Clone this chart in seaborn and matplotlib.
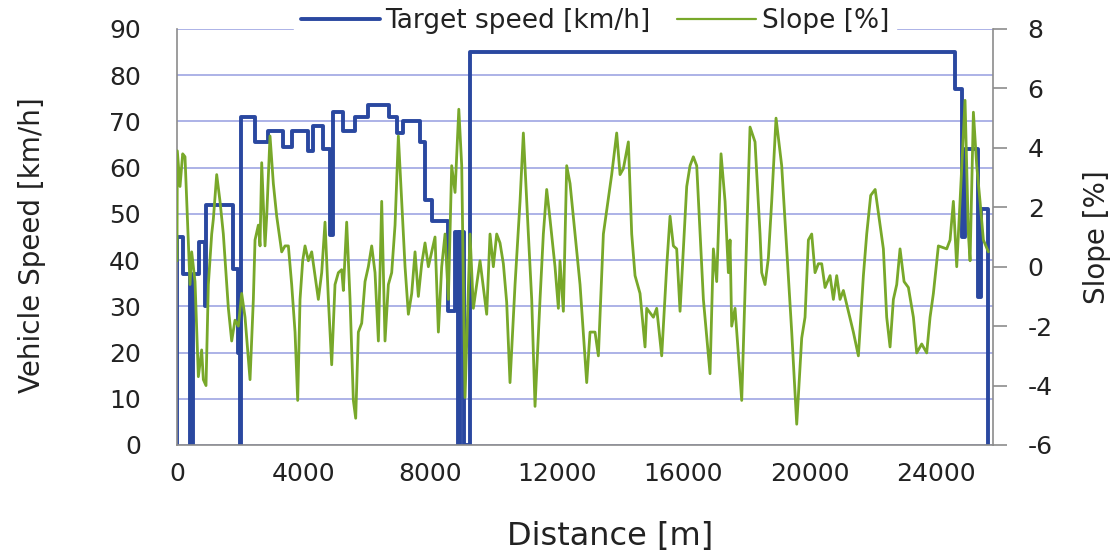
import matplotlib
matplotlib.use("Agg")
import matplotlib.pyplot as plt
import seaborn as sns
import pandas as pd
from matplotlib.lines import Line2D

# ---------------- data ----------------
speed_dist = [0, 0, 200, 400, 500, 706, 886, 917, 1782, 1940,
              1990, 2014, 2467, 2888, 3362, 3626, 4153, 4311, 4627, 4838,
              4922, 5260, 5629, 6050, 6714, 6946, 7157, 7684, 7842, 8050,
              8579, 8790, 8870, 8960, 9060, 9265, 24600, 24811, 24917, 25338,
              25412, 25655]
speed_val = [0, 45, 37, 0, 37, 44, 30, 52, 38, 20,
             0, 71, 65.5, 68, 64.5, 68, 63.5, 69, 64, 45.5,
             72, 68, 71, 73.5, 71, 67.5, 70, 65.5, 53, 48.5,
             29, 46, 0, 46, 0, 85, 77, 45, 64, 32,
             51, 0]

slope_dist = [0, 10, 95, 180, 253, 411, 464, 570, 675, 780, 833, 917, 991, 1097, 1149,
              1255, 1360, 1465, 1624, 1729, 1834, 1940, 2045, 2151, 2309, 2414, 2467,
              2572, 2625, 2678, 2783, 2836, 2941, 3046, 3152, 3310, 3415, 3521, 3626,
              3732, 3816, 3890, 3974, 4048, 4153, 4259, 4364, 4469, 4575, 4680, 4786,
              4891, 4996, 5102, 5207, 5260, 5365, 5471, 5576, 5650, 5734, 5840, 5945,
              6050, 6156, 6261, 6367, 6472, 6577, 6683, 6788, 6894, 6999, 7104, 7210,
              7315, 7421, 7526, 7631, 7737, 7842, 7948, 8053, 8158, 8264, 8369, 8475,
              8580, 8685, 8791, 8910, 9002, 9107, 9265, 9370, 9581, 9792, 9897, 10002,
              10108, 10213, 10319, 10424, 10529, 10688, 10846, 10951, 11109, 11215,
              11320, 11478, 11583, 11689, 11794, 11952, 12058, 12110, 12216, 12321,
              12427, 12585, 12743, 12954, 13059, 13217, 13323, 13481, 13586, 13744,
              13902, 14008, 14113, 14271, 14377, 14482, 14640, 14798, 14851, 15062,
              15167, 15325, 15483, 15589, 15694, 15799, 15905, 16116, 16221, 16326,
              16432, 16643, 16853, 16959, 17064, 17201, 17328, 17433, 17486, 17538,
              17644, 17855, 18013, 18118, 18276, 18434, 18487, 18592, 18698, 18803,
              18940, 19119, 19277, 19436, 19594, 19752, 19857, 19963, 20068, 20173,
              20279, 20384, 20490, 20648, 20753, 20858, 20964, 21069, 21227, 21385,
              21544, 21702, 21807, 21933, 22074, 22229, 22334, 22439, 22545, 22650,
              22756, 22861, 22988, 23125, 23283, 23388, 23546, 23704, 23810, 23915,
              24073, 24337, 24442, 24547, 24653, 24758, 24916, 25022, 25075, 25180,
              25285, 25390, 25496, 25654]
slope_val = [0.2, 3.9, 2.7, 3.8, 3.7, -0.6, 0.5, -0.5, -3.7, -2.8, -3.8, -4.0, -0.6, 1.1, 1.6,
             3.1, 2.2, 1.1, -1.4, -2.5, -1.8, -2.0, -0.9, -1.7, -3.8, -1.1, 0.9,
             1.4, 0.7, 3.5, 0.7, 1.7, 4.4, 2.8, 1.7, 0.5, 0.7, 0.7, -0.6,
             -2.2, -4.5, -1.1, 0.2, 0.7, 0.2, 0.5, -0.3, -1.1, -0.2, 1.5, -1.1,
             -3.3, -0.6, -0.2, -0.1, -0.8, 1.5, -1.1, -4.5, -5.1, -2.2, -1.9, -0.5,
             0.0, 0.7, -0.2, -2.5, 2.2, -2.5, -0.6, -0.2, 1.4, 4.4, 2.2, 0.0,
             -1.6, -0.9, 0.5, -1.0, 0.1, 0.8, 0.0, 0.5, 1.0, -2.2, 0.0, 1.1,
             -1.1, 3.4, 2.5, 5.3, 3.4, -4.4, 1.1, -1.4, 0.2, -1.6, 1.1, 0.0,
             1.1, 0.8, 0.1, -1.2, -3.9, -0.6, 2.2, 4.5, 1.1, -1.1,
             -4.7, -1.1, 1.1, 2.6, 1.6, 0.0, -1.4, 0.2, -1.5, 3.4,
             2.8, 1.1, -0.6, -3.9, -2.2, -2.2, -3.0, 1.1, 1.9, 3.1,
             4.5, 3.1, 3.3, 4.2, 1.1, -0.3, -0.9, -2.7, -1.4, -1.7,
             -1.4, -3.0, 0.0, 1.7, 0.7, 0.6, -1.5, 2.7, 3.4, 3.7,
             3.4, -1.1, -3.6, 0.6, -0.5, 3.8, 2.2, -0.2, 0.9, -2.0,
             -1.4, -4.5, 1.1, 4.7, 4.2, 1.1, -0.2, -0.6, 0.3, 2.2,
             5.0, 3.4, 0.6, -2.2, -5.3, -2.4, -1.7, 0.9, 1.1, -0.2,
             0.1, 0.1, -0.7, -0.3, -1.1, -0.3, -1.1, -0.8, -1.5, -2.2,
             -3.0, -0.3, 1.1, 2.4, 2.6, 1.4, 0.6, -1.7, -2.7, -1.1,
             -0.6, 0.6, -0.5, -0.7, -1.7, -2.9, -2.6, -2.9, -1.7, -0.9,
             0.7, 0.6, 0.9, 2.2, 0.0, 2.2, 5.6, 1.1, 0.2, 5.2,
             3.4, 2.2, 0.9, 0.5]

x_ticks = [0, 4000, 8000, 12000, 16000, 20000, 24000]
speed_ticks = [0, 10, 20, 30, 40, 50, 60, 70, 80, 90]
slope_ticks = [-6, -4, -2, 0, 2, 4, 6, 8]

label_speed = "Target speed [km/h]"
label_slope = "Slope [%]"

# ---------------- style ----------------
blue = "#2a48a0"
green = "#78a82a"
grid_c = "#9ea6e3"
spine_c = "#8c8c8c"
text_c = "#222222"

sns.set_theme(style="white")
plt.rcParams["font.family"] = ["DejaVu Sans"]
plt.rcParams["axes.unicode_minus"] = False

fig = plt.figure(figsize=(11.17, 5.57), dpi=100)
ax = fig.add_axes([177 / 1117, 112 / 557, 816 / 1117, 416 / 557])
ax2 = ax.twinx()

speed_df = pd.DataFrame({"d": speed_dist, "v": speed_val})
slope_df = pd.DataFrame({"d": slope_dist, "s": slope_val})

sns.lineplot(data=speed_df, x="d", y="v", ax=ax, estimator=None, sort=False,
             drawstyle="steps-post", color=blue, linewidth=2.8, legend=False)
sns.lineplot(data=slope_df, x="d", y="s", ax=ax2, estimator=None, sort=False,
             color=green, linewidth=2.0, legend=False)

ax.set_xlim(0, 25800)
ax.set_ylim(0, 90)
ax2.set_ylim(-6, 8)
ax.set_xticks(x_ticks)
ax.set_yticks(speed_ticks)
ax2.set_yticks(slope_ticks)

ax.grid(axis="y", color=grid_c, linewidth=1.2)
ax.grid(axis="x", visible=False)
ax2.grid(False)
ax.set_axisbelow(True)

for a in (ax, ax2):
    a.spines["top"].set_visible(False)
    for s in ("left", "right", "bottom"):
        a.spines[s].set_color(spine_c)
        a.spines[s].set_linewidth(1.2)
ax.spines["right"].set_visible(False)
ax2.spines["left"].set_visible(False)
ax2.spines["bottom"].set_visible(False)

ax.tick_params(axis="both", length=0, labelsize=18, labelcolor=text_c)
ax.tick_params(axis="y", pad=26)
ax.tick_params(axis="x", pad=12)
ax2.tick_params(axis="y", length=10, width=1.2, color=spine_c, pad=15,
                labelsize=18, labelcolor=text_c, direction="out")

ax.set_xlabel("Distance [m]", fontsize=23, color=text_c)
ax.xaxis.label.set_va("center")
ax.xaxis.set_label_coords(0.531, -0.221)
ax.set_ylabel("Vehicle Speed [km/h]", fontsize=20, color=text_c)
ax.yaxis.label.set_va("center")
ax.yaxis.set_label_coords(-0.178, 0.48)
ax2.set_ylabel("Slope [%]", fontsize=20, color=text_c)
ax2.yaxis.label.set_va("center")
ax2.yaxis.set_label_coords(1.127, 0.5)

handles = [Line2D([], [], color=blue, linewidth=2.8),
           Line2D([], [], color=green, linewidth=1.6)]
leg = fig.legend(handles, [label_speed, label_slope], loc="center",
                 bbox_to_anchor=(595 / 1117, 1 - 21 / 557), ncol=2, fontsize=19,
                 frameon=True, facecolor="white", edgecolor="white", framealpha=1,
                 fancybox=False, handlelength=3.0, handletextpad=0.2,
                 columnspacing=1.0, borderpad=0.25, borderaxespad=0)
for t in leg.get_texts():
    t.set_color(text_c)

fig.savefig("out.png", dpi=100)
